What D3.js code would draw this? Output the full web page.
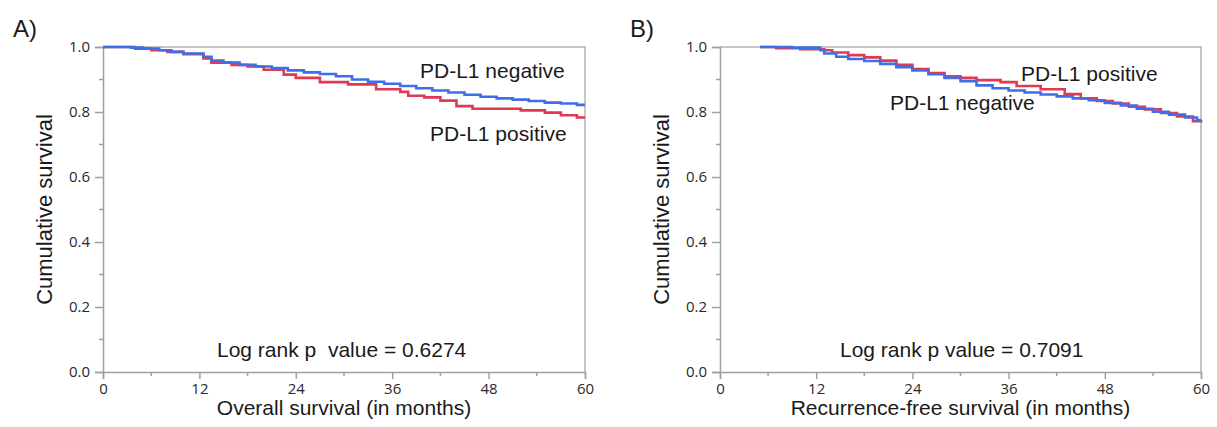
<!DOCTYPE html>
<html>
<head>
<meta charset="utf-8">
<script src="https://cdn.jsdelivr.net/npm/d3@7"></script>
<style>
  body { margin: 0; background: #fff; }
  svg { display: block; }
  .lab { font-family: "Liberation Sans", Arial, sans-serif; fill: #1a1a1a; }
  .tick text { font-family: "Open Sans", "Noto Sans", sans-serif; fill: #2a2a2a; font-size: 15px; }
</style>
</head>
<body>
<svg id="chart" width="1217" height="427"></svg>
<script>
//// ==================== DATA ==================== ////

var xTicks = [0, 12, 24, 36, 48, 60];
var yTicks = [0.0, 0.2, 0.4, 0.6, 0.8, 1.0];

// Panel A: overall survival, [month, survival]
var osNegative = [
    [0, 1.0], [3.5, 0.998], [5, 0.995], [7, 0.99], [8.5, 0.985], [10, 0.98],
    [12.5, 0.97], [13.5, 0.958], [15, 0.952], [17, 0.945], [19, 0.94], [21, 0.935],
    [23, 0.928], [25, 0.922], [27, 0.917], [29, 0.91], [31, 0.9], [33, 0.893],
    [35, 0.887], [37, 0.88], [39, 0.873], [41, 0.866], [43, 0.86], [45, 0.853],
    [47, 0.847], [49, 0.842], [51, 0.838], [53, 0.834], [55, 0.829], [57, 0.826],
    [59, 0.822], [60, 0.822]
];
var osPositive = [
    [0, 1.0], [4, 0.995], [6, 0.99], [8, 0.985], [10, 0.978], [12.5, 0.965],
    [13.5, 0.952], [16, 0.945], [18, 0.94], [20, 0.93], [22.5, 0.915], [24, 0.905],
    [27, 0.892], [30.5, 0.885], [34, 0.87], [37, 0.862], [38, 0.85], [40, 0.845],
    [42, 0.835], [44, 0.818], [46, 0.81], [52, 0.805], [55, 0.798], [57, 0.79],
    [59, 0.783], [60, 0.783]
];

// Panel B: recurrence-free survival, [month, survival]
var rfsNegative = [
    [5, 1.0], [9, 0.998], [12.5, 0.99], [13, 0.98], [14.5, 0.97], [16, 0.963],
    [18, 0.957], [20, 0.948], [22, 0.938], [24, 0.928], [26, 0.916], [28, 0.905],
    [30, 0.895], [32, 0.882], [34, 0.873], [36, 0.866], [38, 0.86], [40, 0.854],
    [42, 0.848], [44, 0.842], [46, 0.836], [48, 0.828], [50, 0.82], [52, 0.81],
    [54, 0.801], [56, 0.792], [58, 0.783], [59.5, 0.775], [60, 0.775]
];
var rfsPositive = [
    [5, 1.0], [7, 0.996], [10, 0.993], [13, 0.99], [14, 0.983], [16, 0.975],
    [18, 0.968], [20, 0.958], [22, 0.945], [24, 0.932], [26, 0.92], [28, 0.91],
    [30, 0.905], [32, 0.898], [35, 0.892], [37, 0.88], [40, 0.87], [43, 0.855],
    [45, 0.842], [47, 0.834], [49, 0.826], [51, 0.816], [53, 0.808], [55, 0.797],
    [57, 0.786], [59, 0.772], [60, 0.768]
];

var colorNeg = "#3f6fe6";
var colorPos = "#e03a52";

//// ==================== LAYOUT ==================== ////

var svg = d3.select("#chart");
var plotTop = 47, plotBottom = 372;

function drawPanel(p) {
    var x = d3.scaleLinear().domain([0, 60]).range([p.left, p.right]);
    var y = d3.scaleLinear().domain([0, 1]).range([plotBottom, plotTop]);
    var g = svg.append("g");

    // frame (top and right)
    g.append("path")
        .attr("d", "M" + p.left + "," + plotTop + "H" + p.right + "V" + plotBottom)
        .attr("fill", "none")
        .attr("stroke", "#b4b4b4")
        .attr("stroke-width", 1.5);

    // minor ticks
    g.selectAll(".xminor")
        .data(d3.range(6, 60, 12))
        .enter().append("line")
        .attr("x1", function(d) { return x(d); })
        .attr("x2", function(d) { return x(d); })
        .attr("y1", plotBottom).attr("y2", plotBottom + 4)
        .attr("stroke", "#a0a0a0").attr("stroke-width", 1.5);
    g.selectAll(".yminor")
        .data(d3.range(0.1, 1, 0.2))
        .enter().append("line")
        .attr("y1", function(d) { return y(d); })
        .attr("y2", function(d) { return y(d); })
        .attr("x1", p.left).attr("x2", p.left - 4)
        .attr("stroke", "#a0a0a0").attr("stroke-width", 1.5);

    var xAxis = g.append("g")
        .attr("transform", "translate(0," + plotBottom + ")")
        .call(d3.axisBottom(x).tickValues(xTicks).tickSize(7).tickPadding(4).tickFormat(d3.format("d")));
    var yAxis = g.append("g")
        .attr("transform", "translate(" + p.left + ",0)")
        .call(d3.axisLeft(y).tickValues(yTicks).tickSize(8).tickPadding(5).tickFormat(d3.format(".1f")));

    [xAxis, yAxis].forEach(function(a) {
        a.select(".domain").attr("stroke", "#a0a0a0").attr("stroke-width", 1.5);
        a.selectAll(".tick line").attr("stroke", "#a0a0a0").attr("stroke-width", 1.5);
    });

    // curves
    var line = d3.line()
        .x(function(d) { return x(d[0]); })
        .y(function(d) { return y(d[1]); })
        .curve(d3.curveStepAfter);

    p.series.forEach(function(s) {
        g.append("path")
            .datum(s.data)
            .attr("d", line)
            .attr("fill", "none")
            .attr("stroke", s.color)
            .attr("stroke-width", 2.6);
    });

    // texts
    g.append("text").attr("class", "lab")
        .attr("x", p.left - 90).attr("y", 37)
        .style("font-size", "24px")
        .text(p.tag);

    g.append("text").attr("class", "lab")
        .attr("transform", "translate(" + (p.left - 51) + "," + ((plotTop + plotBottom) / 2) + ") rotate(-90)")
        .attr("text-anchor", "middle")
        .style("font-size", "22px")
        .text("Cumulative survival");

    g.append("text").attr("class", "lab")
        .attr("x", (p.left + p.right) / 2).attr("y", 415)
        .attr("text-anchor", "middle")
        .style("font-size", "21px")
        .text(p.xTitle);

    p.notes.forEach(function(n) {
        g.append("text").attr("class", "lab")
            .attr("x", n.x).attr("y", n.y)
            .style("font-size", "21px")
            .text(n.text);
    });
}

drawPanel({
    tag: "A)",
    left: 103, right: 585,
    xTitle: "Overall survival (in months)",
    series: [{ data: osPositive, color: colorPos }, { data: osNegative, color: colorNeg }],
    notes: [
        { text: "PD-L1 negative", x: 420, y: 78 },
        { text: "PD-L1 positive", x: 430, y: 141 },
        { text: "Log rank p\u00a0 value = 0.6274", x: 217, y: 357 }
    ]
});

drawPanel({
    tag: "B)",
    left: 720, right: 1201,
    xTitle: "Recurrence-free survival (in months)",
    series: [{ data: rfsPositive, color: colorPos }, { data: rfsNegative, color: colorNeg }],
    notes: [
        { text: "PD-L1 positive", x: 1021, y: 81 },
        { text: "PD-L1 negative", x: 890, y: 110 },
        { text: "Log rank p value = 0.7091", x: 840, y: 357 }
    ]
});
</script>
</body>
</html>
